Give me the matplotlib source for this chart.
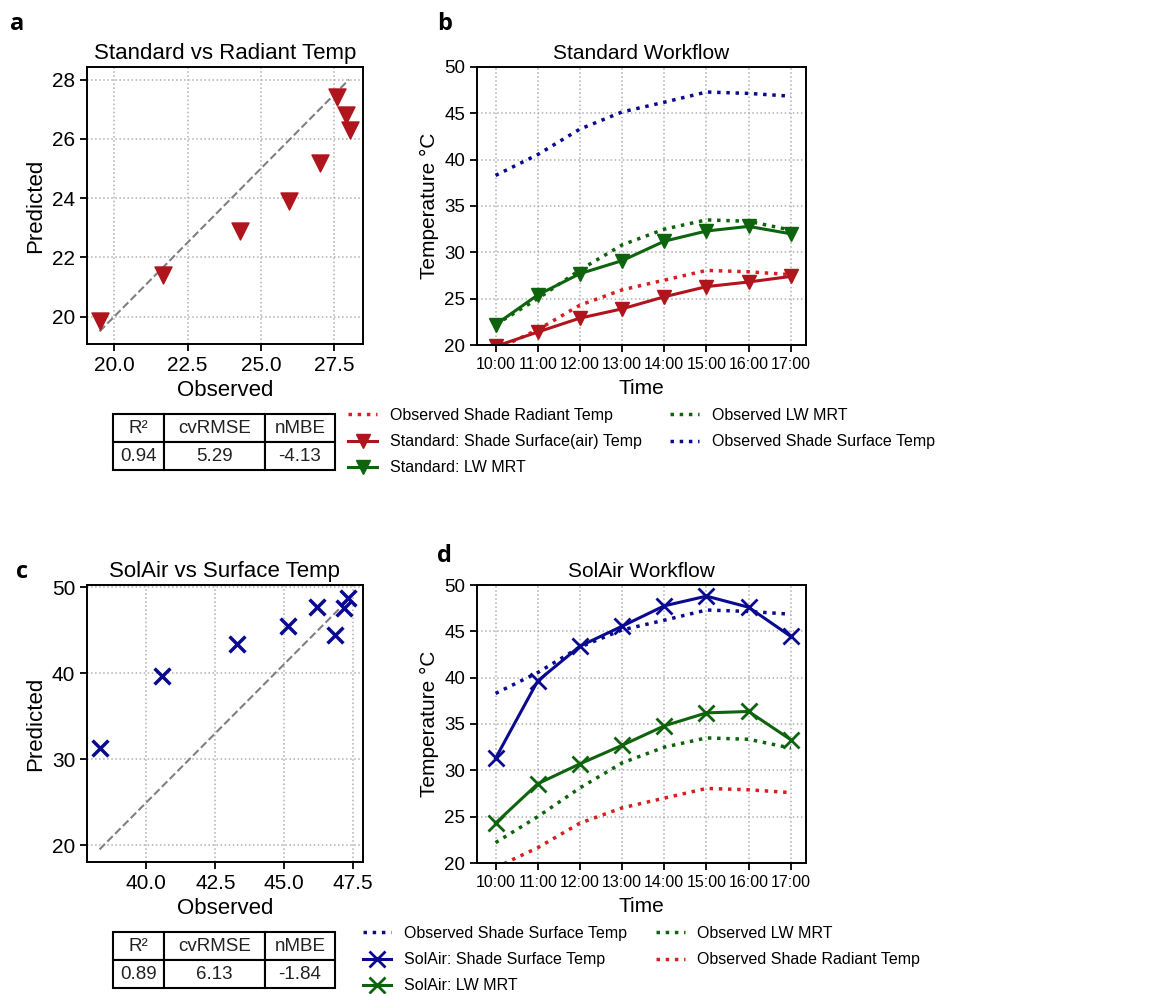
import matplotlib
matplotlib.use("Agg")
import matplotlib.pyplot as plt

# hours of the day
hours = [10, 11, 12, 13, 14, 15, 16, 17]
hour_labels = ["10:00", "11:00", "12:00", "13:00", "14:00", "15:00", "16:00", "17:00"]

# observed
obs_radiant = [19.5, 21.65, 24.3, 25.95, 27.0, 28.05, 27.9, 27.6]
obs_lw_mrt = [22.2, 25.0, 28.1, 30.8, 32.5, 33.5, 33.35, 32.4]
obs_surface = [38.3, 40.55, 43.3, 45.15, 46.2, 47.3, 47.15, 46.85]

# standard workflow
std_surface_air = [19.85, 21.4, 22.9, 23.9, 25.2, 26.3, 26.8, 27.4]
std_lw_mrt = [22.2, 25.4, 27.7, 29.1, 31.2, 32.3, 32.8, 32.0]

# solair workflow
sol_surface = [31.3, 39.65, 43.4, 45.55, 47.75, 48.8, 47.6, 44.45]
sol_lw_mrt = [24.3, 28.55, 30.7, 32.7, 34.8, 36.2, 36.35, 33.3]

# 1:1 reference lines as drawn in the scatter panels
diag_a_x = [19.5, 28.0]
diag_a_y = [19.5, 28.0]
diag_c_x = [38.3, 47.4]
diag_c_y = [19.5, 48.8]

# error metrics
metric_names = ["R²", "cvRMSE", "nMBE"]
metrics_a = ["0.94", "5.29", "-4.13"]
metrics_c = ["0.89", "6.13", "-1.84"]

RED = "#b0141c"
RED_DOT = "#d42020"
GREEN = "#0d640d"
BLUE = "#0a0a90"

plt.rcParams["font.family"] = ["Liberation Sans", "DejaVu Sans"]

W, H = 1161, 994
fig = plt.figure(figsize=(W / 100, H / 100), dpi=100)


def box(l, t, r, b):
    return [l / W, 1 - b / H, (r - l) / W, (b - t) / H]


def style(ax, fs):
    ax.grid(True, linestyle=":", color="#b0b0b0", linewidth=1.1)
    ax.set_axisbelow(True)
    for s in ax.spines.values():
        s.set_linewidth(1.4)
    ax.tick_params(labelsize=fs, width=1.3, length=5)


def add_table(ax, vals):
    t = ax.table(cellText=[vals], colLabels=metric_names, cellLoc="center",
                 colWidths=[0.23, 0.455, 0.315],
                 bbox=[0.094, -0.455, 0.804, 0.202])
    t.auto_set_font_size(False)
    t.set_fontsize(13.5)
    for c in t.get_celld().values():
        c.set_linewidth(1.5)
        c.get_text().set_color("#222222")


# a
ax_a = fig.add_axes(box(87, 67, 363, 344))
ax_a.plot(diag_a_x, diag_a_y, "--", color="gray", lw=1.5)
ax_a.scatter(obs_radiant, std_surface_air, marker="v", s=150, color=RED, zorder=3)
ax_a.set_title("Standard vs Radiant Temp", fontsize=16)
ax_a.set_xlabel("Observed", fontsize=16)
ax_a.set_ylabel("Predicted", fontsize=16)
ax_a.set_yticks([20, 22, 24, 26, 28])
ax_a.set_xticks([20, 22.5, 25, 27.5])
style(ax_a, 15)
add_table(ax_a, metrics_a)

# c
ax_c = fig.add_axes(box(87, 585, 363, 862))
ax_c.plot(diag_c_x, diag_c_y, "--", color="gray", lw=1.5)
ax_c.scatter(obs_surface, sol_surface, marker="x", s=130, color=BLUE, linewidths=2.5, zorder=3)
ax_c.set_title("SolAir vs Surface Temp", fontsize=16)
ax_c.set_xlabel("Observed", fontsize=16)
ax_c.set_ylabel("Predicted", fontsize=16)
ax_c.set_yticks([20, 30, 40, 50])
ax_c.set_xticks([40, 42.5, 45, 47.5])
style(ax_c, 15)
add_table(ax_c, metrics_c)


def workflow(ax, title):
    ax.set_ylim(20, 50)
    ax.set_xlim(9.56, 17.36)
    ax.set_xticks(hours)
    ax.set_xticklabels(hour_labels)
    ax.set_title(title, fontsize=15)
    ax.set_xlabel("Time", fontsize=15, labelpad=5)
    ax.set_ylabel("Temperature °C", fontsize=15)
    style(ax, 13.5)
    ax.tick_params(axis="x", labelsize=11.5)
    ax.legend(ncol=2, loc="upper center", bbox_to_anchor=(0.5, -0.175),
              frameon=False, fontsize=11.5,
              handlelength=1.8, handletextpad=0.8, columnspacing=1.8,
              labelspacing=0.7)


# b
ax_b = fig.add_axes(box(477, 67, 806, 345))
ax_b.plot(hours, obs_radiant, ":", color=RED_DOT, lw=2.5, label="Observed Shade Radiant Temp")
ax_b.plot(hours, std_surface_air, "-v", color=RED, lw=2.2, ms=10,
          label="Standard: Shade Surface(air) Temp")
ax_b.plot(hours, std_lw_mrt, "-v", color=GREEN, lw=2.2, ms=10, label="Standard: LW MRT")
ax_b.plot(hours, obs_lw_mrt, ":", color=GREEN, lw=2.5, label="Observed LW MRT")
ax_b.plot(hours, obs_surface, ":", color=BLUE, lw=2.5, label="Observed Shade Surface Temp")
workflow(ax_b, "Standard Workflow")

# d
ax_d = fig.add_axes(box(477, 585, 806, 863))
ax_d.plot(hours, obs_surface, ":", color=BLUE, lw=2.5, label="Observed Shade Surface Temp")
ax_d.plot(hours, sol_surface, "-x", color=BLUE, lw=2.2, ms=11, mew=2,
          label="SolAir: Shade Surface Temp")
ax_d.plot(hours, sol_lw_mrt, "-x", color=GREEN, lw=2.2, ms=11, mew=2, label="SolAir: LW MRT")
ax_d.plot(hours, obs_lw_mrt, ":", color=GREEN, lw=2.5, label="Observed LW MRT")
ax_d.plot(hours, obs_radiant, ":", color=RED_DOT, lw=2.5, label="Observed Shade Radiant Temp")
workflow(ax_d, "SolAir Workflow")

# panel letters
for letter, x, y in [("a", 10, 30), ("b", 437, 30), ("c", 16, 578), ("d", 437, 562)]:
    fig.text(x / W, 1 - y / H, letter, fontsize=17, fontweight="bold",
             family=["Open Sans", "DejaVu Sans"], va="baseline")

fig.savefig("out.png", dpi=100)
